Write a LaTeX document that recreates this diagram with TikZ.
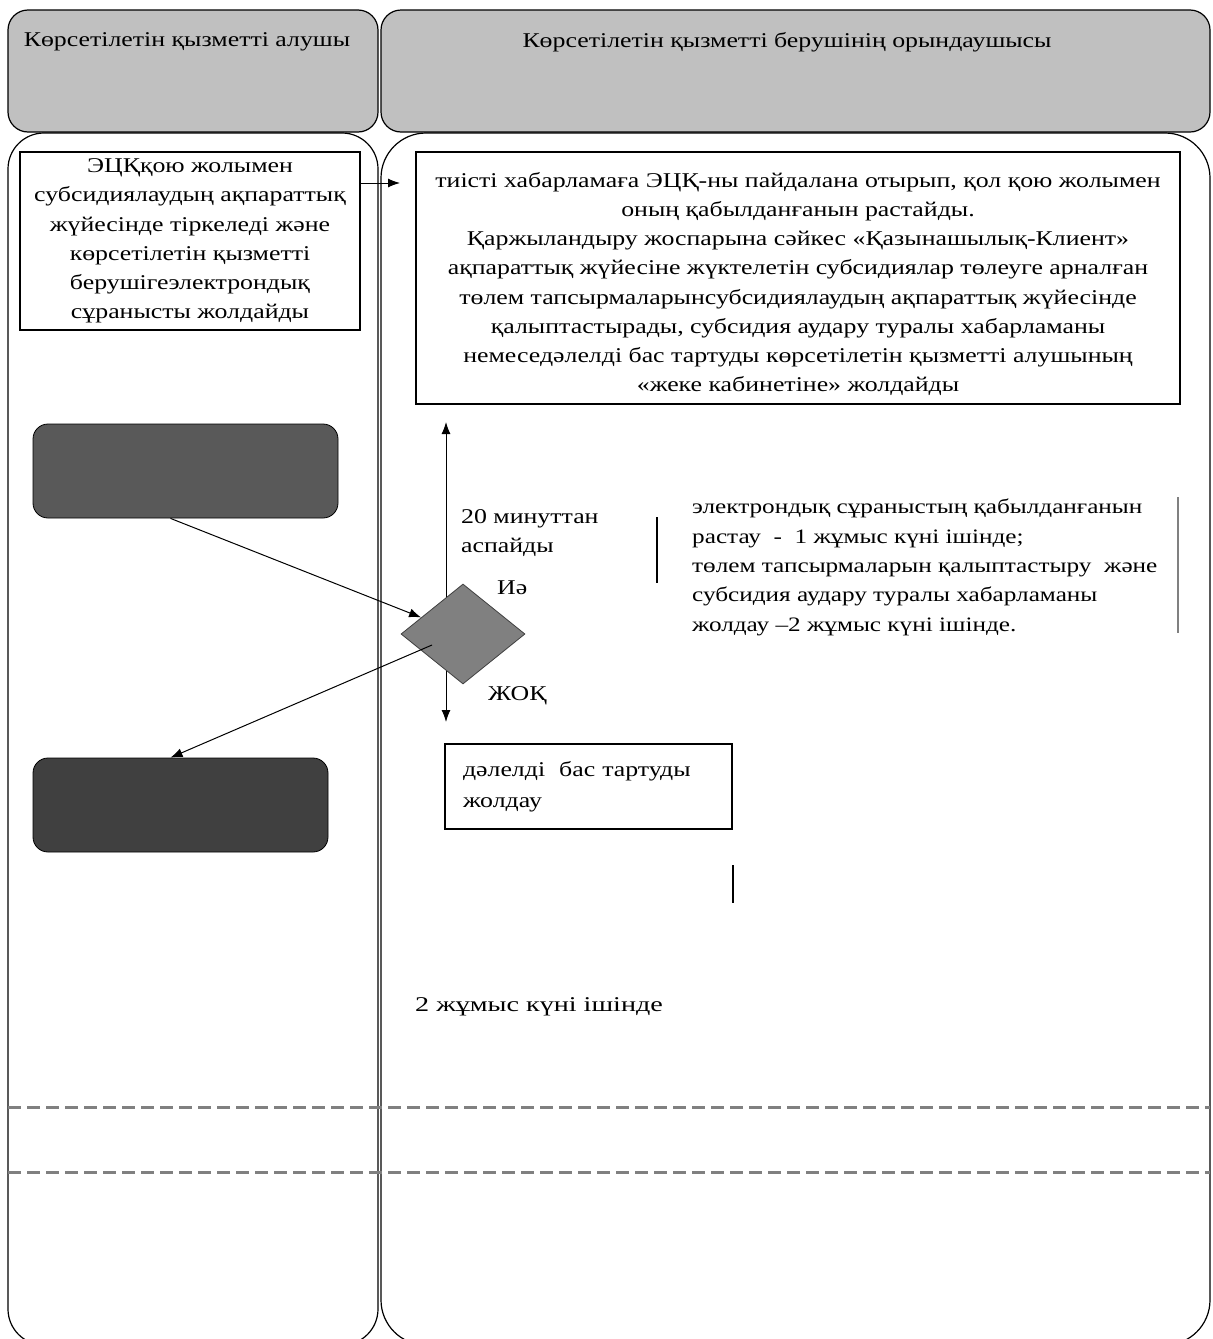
\documentclass[tikz,border=0pt]{standalone}
\usepackage{fontspec}
\setmainfont{Liberation Serif}[FakeStretch=1.23]
\newfontfamily\widefont{Liberation Serif}[FakeStretch=1.34]
\usetikzlibrary{arrows.meta,shapes.geometric}
\definecolor{hdrgray}{HTML}{C0C0C0}
\definecolor{darkA}{HTML}{595959}
\definecolor{darkB}{HTML}{404040}
\definecolor{midgray}{HTML}{808080}
\tikzset{
  lane/.style={draw=black,line width=1.2pt},
  hdr/.style={lane,fill=hdrgray,rounded corners=20pt},
  txt/.style={inner sep=0pt,font=\fontsize{21}{29.3}\selectfont},
  boxnode/.style={draw=black,line width=1.2pt,fill=white,font=\fontsize{21}{29.3}\selectfont},
  darkbox/.style={draw=black,line width=0.8pt,rounded corners=15pt,minimum width=305pt,minimum height=94pt,inner sep=0pt},
  tip/.tip={Latex[length=12pt,width=9pt]},
  conn/.style={line width=1pt,-tip},
  sep/.style={midgray,line width=3pt,dash pattern=on 13pt off 6pt},
  vbar/.style={line width=1.2pt}
}
\begin{document}
\begin{tikzpicture}[x=1pt,y=-1pt]
\useasboundingbox (0,0) rectangle (1213,1339);
% headers
\draw[hdr] (8,10) rectangle (378,132);
\draw[hdr] (381,10) rectangle (1210,132);
\node[txt] (h1) at (187,42) {Көрсетілетін қызметті алушы};
\node[txt] (h2) at (787,42) {Көрсетілетін қызметті берушінің орындаушысы};
% lane bodies
\draw[lane,rounded corners=36pt] (8,133) rectangle (378,1345);
\draw[lane,rounded corners=45pt] (381,133) rectangle (1210,1345);
% dashed separators
\draw[sep] (8,1107) -- (1210,1107);
\draw[sep] (8,1172) -- (1210,1172);
% left box
\node[boxnode,minimum width=340pt,minimum height=178pt,align=center,inner sep=0pt] (b1) at (190,241)
 {ЭЦҚқою жолымен\\субсидиялаудың ақпараттық\\жүйесінде тіркеледі және\\көрсетілетін қызметті\\берушігеэлектрондық\\сұранысты жолдайды};
% big box
\node[boxnode,minimum width=764pt,minimum height=252pt,inner sep=0pt] (b2) at (798,278) {};
\node[txt,align=center,font=\fontsize{21}{29.1}\selectfont] (b2t) at (798,284)
 {тиісті хабарламаға ЭЦҚ-ны пайдалана отырып, қол қою жолымен\\оның қабылданғанын растайды.\\Қаржыландыру жоспарына сәйкес «Қазынашылық-Клиент»\\ақпараттық жүйесіне жүктелетін субсидиялар төлеуге арналған\\төлем тапсырмаларынсубсидиялаудың ақпараттық жүйесінде\\қалыптастырады, субсидия аудару туралы хабарламаны\\немеседәлелді бас тартуды көрсетілетін қызметті алушының\\«жеке кабинетіне» жолдайды};
\coordinate (ae) at (400,183);
\draw[conn] (b1.east |- ae) -- (ae);
% dark boxes
\node[darkbox,fill=darkA] (r1) at (185.5,471) {};
\node[darkbox,fill=darkB,minimum width=295pt] (r2) at (180.5,805) {};
% vertical double arrow
\coordinate (vt) at (446,422);
\coordinate (vb) at (446,722);
\draw[line width=1pt,tip-tip] (vt) -- (vb);
% diamond
\node[diamond,draw=darkB,line width=0.8pt,fill=midgray,minimum width=124pt,minimum height=100pt,inner sep=0pt] (d) at (463,634) {};
\draw[conn] ([xshift=-15pt]r1.south) -- (d);
\draw[conn] ([xshift=-31pt,yshift=-11pt]d.center) -- ([xshift=-10pt]r2.north);
% labels
\node[txt,anchor=north west,align=left] (l20) at (461,509) {20 минуттан\\аспайды};
\node[txt,anchor=north west] (yes) at (497,581) {Иә};
\node[txt,anchor=north west] (no) at (488,686) {ЖОҚ};
\node[txt,anchor=north west,align=left,font=\fontsize{20.5}{29.3}\selectfont] (rt) at (692,499) {электрондық сұраныстың қабылданғанын\\растау \ - \ 1 жұмыс күні ішінде;\\төлем тапсырмаларын қалыптастыру \ және\\субсидия аудару туралы хабарламаны\\жолдау –2 жұмыс күні ішінде.};
\coordinate (va1) at (657,517);
\coordinate (va2) at (657,583);
\draw[vbar] (va1) -- (va2);
\coordinate (vc1) at (1178,497);
\coordinate (vc2) at (1178,633);
\draw[vbar,midgray] (vc1) -- (vc2);
% refusal box
\node[boxnode,minimum width=287pt,minimum height=85pt,text width=251pt,inner xsep=18pt,inner ysep=0pt,align=left,font=\fontsize{21}{31}\selectfont] (b3) at (588.5,786.5) {дәлелді \ бас тартуды\\жолдау};
\coordinate (vd1) at (733,865);
\coordinate (vd2) at (733,903);
\draw[vbar] (vd1) -- (vd2);
\node[txt,anchor=north west,font=\widefont\fontsize{21}{29.3}\selectfont] (t2) at (415,997) {2 жұмыс күні ішінде};
\end{tikzpicture}
\end{document}
